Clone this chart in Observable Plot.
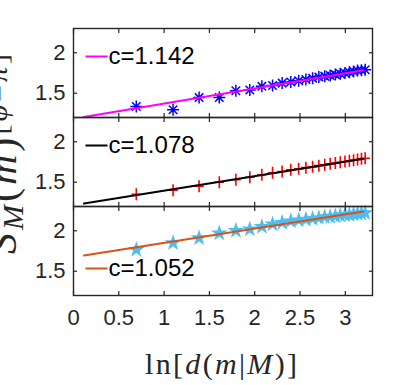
<!DOCTYPE html>
<html><head><meta charset="utf-8">
<script src="https://cdn.jsdelivr.net/npm/d3@7"></script>
<script src="https://cdn.jsdelivr.net/npm/@observablehq/plot@0.6"></script>
<style>body{margin:0;background:#fff} #chart{width:408px;height:385px}</style>
</head><body><div id="chart"></div>
<script>
// x = ln[d(m|M)] for d = 2..25
const lnD = [0.693,1.099,1.386,1.609,1.792,1.946,2.079,2.197,2.303,2.398,2.485,2.565,2.639,2.708,2.773,2.833,2.890,2.944,2.996,3.045,3.091,3.135,3.178,3.219];
const s1 = [1.336,1.295,1.446,1.446,1.53,1.54,1.585,1.595,1.625,1.64,1.655,1.67,1.685,1.70,1.71,1.72,1.73,1.74,1.75,1.76,1.77,1.78,1.785,1.79];
const s2 = [1.35,1.40,1.45,1.50,1.53,1.562,1.592,1.616,1.633,1.654,1.666,1.68,1.69,1.705,1.716,1.727,1.737,1.747,1.756,1.765,1.773,1.781,1.789,1.796];
const s3 = [1.765,1.85,1.91,1.97,2.0,2.02,2.05,2.08,2.10,2.12,2.13,2.14,2.15,2.16,2.17,2.175,2.18,2.19,2.195,2.20,2.205,2.21,2.215,2.22];
const fitX = [0.115, 3.2];
const fit1 = [1.205, 1.785];
const fit2 = [1.237, 1.79];
const fit3 = [1.695, 2.238];
const panels = ["p1","p2","p3"];
const cLabels = ["c=1.142","c=1.078","c=1.052"];
const xTicks = [0,0.5,1,1.5,2,2.5,3];
const yTicks = [1.5,2];

const series = [s1,s2,s3];
const fits = [fit1,fit2,fit3];
const pts = panels.map((p,i)=>lnD.map((x,j)=>({panel:p,x,y:series[i][j]})));
const lines = panels.map((p,i)=>fitX.map((x,j)=>({panel:p,x,y:fits[i][j]})));
const legs = panels.map((p,i)=>[{panel:p,label:cLabels[i]}]);

const rad = s => Math.sqrt(s/Math.PI);
const asterisk8 = {draw(c,s){const r=rad(s),q=r*0.7071;
  c.moveTo(-r,0);c.lineTo(r,0);c.moveTo(0,-r);c.lineTo(0,r);
  c.moveTo(-q,-q);c.lineTo(q,q);c.moveTo(-q,q);c.lineTo(q,-q);}};
const plus = {draw(c,s){const r=rad(s);c.moveTo(-r*0.8,0);c.lineTo(r*0.8,0);c.moveTo(0,-r);c.lineTo(0,r);}};
const hline = {draw(c,s){const r=rad(s);c.moveTo(-r,0);c.lineTo(r,0);}};

const ax = "#262626";
const fmt = d => String(d);
const legMark = (i, color, top) => [
  Plot.dot(legs[i], {fy:"panel", frameAnchor: top?"top-left":"bottom-left", dx:23, dy: top?28:-27, symbol:hline, r:11, stroke:color, strokeWidth:2, fill:"none"}),
  Plot.text(legs[i], {fy:"panel", text:"label", frameAnchor: top?"top-left":"bottom-left", dx:35, dy: top?28:-27, textAnchor:"start", lineAnchor:"middle", fontSize:24, fill:"#000"})
];

const svg = Plot.plot({
  width:408, height:385,
  marginLeft:73, marginRight:36, marginTop:28, marginBottom:90,
  style:{fontFamily:"'Liberation Sans', Arial, sans-serif", background:"#fff", color:ax},
  x:{domain:[0,3.3]},
  y:{domain:[1.2,2.3]},
  fy:{domain:panels, axis:null, padding:0},
  marks:[
    Plot.dot(pts[0], {x:"x", y:"y", fy:"panel", symbol:asterisk8, r:6, stroke:"#0000FF", strokeWidth:1.5, fill:"none"}),
    Plot.dot(pts[1], {x:"x", y:"y", fy:"panel", symbol:plus, r:6, stroke:"#FF0000", strokeWidth:1.6, fill:"none"}),
    Plot.dot(pts[2], {x:"x", y:"y", fy:"panel", symbol:"star", r:5.2, fill:"#4DBEEE", stroke:"none"}),
    Plot.line(lines[0], {x:"x", y:"y", fy:"panel", stroke:"#FF00FF", strokeWidth:2}),
    Plot.line(lines[1], {x:"x", y:"y", fy:"panel", stroke:"#000000", strokeWidth:2}),
    Plot.line(lines[2], {x:"x", y:"y", fy:"panel", stroke:"#D95319", strokeWidth:2}),
    ...legMark(0,"#FF00FF",true),
    ...legMark(1,"#000000",true),
    ...legMark(2,"#D95319",false),
    Plot.axisX(xTicks, {anchor:"top", facetAnchor:null, tickSize:4, dy:4, stroke:ax, strokeWidth:1.2, fill:"none", label:null}),
    Plot.axisX(xTicks, {anchor:"bottom", facetAnchor:null, tickSize:4, dy:-4, stroke:ax, strokeWidth:1.2, fill:"none", label:null}),
    Plot.axisY(yTicks, {anchor:"left", facetAnchor:null, tickSize:4, dx:4, stroke:ax, strokeWidth:1.2, fill:"none", label:null}),
    Plot.axisY(yTicks, {anchor:"right", facetAnchor:null, tickSize:4, dx:-4, stroke:ax, strokeWidth:1.2, fill:"none", label:null}),
    Plot.axisX(xTicks, {anchor:"bottom", facetAnchor:"bottom", tickSize:0, tickPadding:14, fontSize:22, fill:ax, label:null, tickFormat:fmt}),
    Plot.axisY(yTicks, {anchor:"left", facetAnchor:null, tickSize:0, tickPadding:8, fontSize:22, fill:ax, label:null, tickFormat:fmt}),
    Plot.frame({stroke:ax, strokeWidth:1.4})
  ]
});
document.getElementById("chart").appendChild(svg);

// axis titles (LaTeX-like)
const s = d3.select(svg);
const xl = s.append("text").attr("x",221).attr("y",374).attr("text-anchor","middle")
  .attr("font-family","'Liberation Serif', 'DejaVu Serif', serif").attr("font-size",30).attr("fill","#262626")
  .attr("textLength",152).attr("lengthAdjust","spacing");
xl.append("tspan").text("ln[");
xl.append("tspan").attr("font-style","italic").text("d");
xl.append("tspan").text("(");
xl.append("tspan").attr("font-style","italic").text("m");
xl.append("tspan").text("|");
xl.append("tspan").attr("font-style","italic").text("M");
xl.append("tspan").text(")]");

const yl = s.append("text").attr("transform","translate(16,254) rotate(-90)").attr("text-anchor","start")
  .attr("font-family","'Liberation Serif', 'DejaVu Serif', serif").attr("font-size",42).attr("fill","#262626")
  .attr("textLength",200).attr("lengthAdjust","spacing");
yl.append("tspan").attr("font-style","italic").text("S");
yl.append("tspan").attr("font-style","italic").attr("font-size",30).attr("dy",7).text("M");
yl.append("tspan").attr("dy",-7).text("(");
yl.append("tspan").attr("font-style","italic").text("m");
yl.append("tspan").text(")");
yl.append("tspan").attr("font-size",30).attr("dy",-9).text("[");
yl.append("tspan").attr("font-size",30).attr("font-style","italic").text("φ");
yl.append("tspan").attr("font-size",30).text("=");
yl.append("tspan").attr("font-size",30).attr("font-style","italic").text("π");
yl.append("tspan").attr("font-size",30).text("]");
</script></body></html>
